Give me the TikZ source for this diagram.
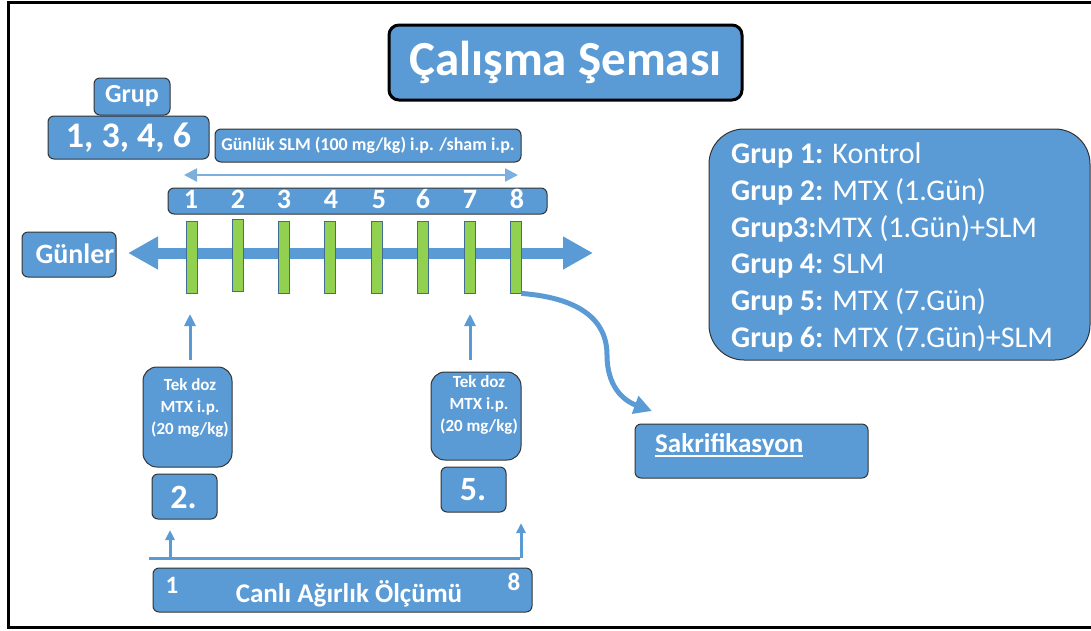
\documentclass[tikz,border=0pt]{standalone}
\usepackage{fontspec}
\setmainfont{Carlito}
\usetikzlibrary{positioning,arrows.meta}
\definecolor{blu}{HTML}{5B9BD5}
\definecolor{grn}{HTML}{92D050}
\tikzset{
  box/.style={draw=black!80, line width=1pt, fill=blu, text=white, font=\bfseries, rounded corners=6pt, inner sep=0pt},
  lbl/.style={text=white, inner sep=0pt},
  bar/.style={draw=blu!70!black, line width=0.8pt, fill=grn, minimum width=11pt, minimum height=72pt, inner sep=0pt},
  flow/.style={draw=blu, line width=3pt, -{Triangle[length=12pt,width=11pt]}},
}
\newcommand{\fs}[1]{\fontsize{#1}{#1}\selectfont}

\begin{document}
\begin{tikzpicture}[x=1pt,y=-1pt,>=Latex]
  \useasboundingbox (0,0) rectangle (1091,630);
  \draw[line width=3pt] (1091,2) -- (8,2) -- (8,627) -- (1091,627);

  \node[box, draw=black, line width=3pt, rounded corners=10pt, minimum width=353pt, minimum height=75pt, font=\bfseries\fs{49}] (baslik) at (565.5,62.5) {Çalışma Şeması};

  \node[box, minimum width=76pt, minimum height=37pt, font=\bfseries\fs{26}] (grup) at (132,96.5) {Grup};
  \node[box, minimum width=161pt, minimum height=43pt, font=\bfseries\fs{36}] (gruplar) at (128.5,137.5) {1, 3, 4, 6};
  \node[box, minimum width=306pt, minimum height=33pt, font=\bfseries\fs{18}] (slm) at (368,145.5) {Günlük SLM (100 mg/kg) i.p. /sham i.p.};

  \coordinate (slmA) at (184,175);
  \coordinate (slmB) at (518,175);
  \draw[blu!80, line width=2.5pt, {Triangle[length=13pt,width=13pt]}-{Triangle[length=13pt,width=13pt]}] (slmA) -- (slmB);

  \node[box, minimum width=379pt, minimum height=26pt] (gunbox) at (357.5,201) {};
  \foreach \x [count=\i] in {191,238,284,331,379,423,470,517}
    \node[lbl, anchor=base, font=\bfseries\fs{28}] (n\i) at (\x,208) {\i};

  \coordinate (eksA) at (128,253);
  \coordinate (eksB) at (593,253);
  \draw[blu, line width=11pt, {Triangle[length=30pt,width=31pt]}-{Triangle[length=30pt,width=31pt]}] (eksA) -- (eksB);
  \foreach \x/\y [count=\i] in {191.5/257,237.5/255,284/257,330/257,376.5/257,422.5/257,469.5/257,515.5/257}
    \node[bar] (b\i) at (\x,\y) {};

  \node[box, minimum width=94pt, minimum height=45pt] (gunler) at (69,254.5) {};
  \node[lbl, font=\bfseries\fs{28}] (gunlert) at (75,254) {Günler};

  \node[box, rounded corners=14pt, minimum width=89pt, minimum height=100pt] (doz1) at (187.5,417) {};
  \node[lbl, align=center, font=\bfseries\fontsize{17}{22}\selectfont] (doz1t) at (190,408) {Tek doz\\MTX i.p.\\(20 mg/kg)};
  \node[box, rounded corners=14pt, minimum width=90pt, minimum height=88pt] (doz2) at (476,416) {};
  \node[lbl, align=center, font=\bfseries\fontsize{17}{22}\selectfont] (doz2t) at (479,405) {Tek doz\\MTX i.p.\\(20 mg/kg)};

  \coordinate (u1) at (190,360);
  \coordinate (u1e) at (190,314);
  \coordinate (u2) at (470,360);
  \coordinate (u2e) at (470,314);
  \draw[flow] (u1) -- (u1e);
  \draw[flow] (u2) -- (u2e);

  \node[box, minimum width=65pt, minimum height=45pt] (gun2) at (184.5,496.5) {};
  \node[lbl, font=\bfseries\fs{34}] (gun2t) at (183.5,497) {2.};
  \node[box, minimum width=65pt, minimum height=45pt] (gun5) at (473.5,489.5) {};
  \node[lbl, font=\bfseries\fs{34}] (gun5t) at (473,490) {5.};

  \coordinate (hA) at (149,558);
  \coordinate (hB) at (520,558);
  \coordinate (k1) at (170,558);
  \coordinate (k1e) at (170,530);
  \coordinate (k8) at (521,558);
  \coordinate (k8e) at (521,523);
  \draw[blu, line width=3pt] (hA) -- (hB);
  \draw[flow, -{Triangle[length=10pt,width=9pt]}] (k1) -- (k1e);
  \draw[flow, -{Triangle[length=10pt,width=9pt]}] (k8) -- (k8e);

  \node[box, minimum width=379pt, minimum height=44pt] (canli) at (342.5,590) {};
  \node[lbl, anchor=base, font=\bfseries\fs{27}] (canlit) at (349,602) {Canlı Ağırlık Ölçümü};
  \node[lbl, anchor=base, font=\bfseries\fs{25}] (c1) at (172,593) {1};
  \node[lbl, anchor=base, font=\bfseries\fs{25}] (c8) at (514,590) {8};

  \node[box, minimum width=233pt, minimum height=54pt] (sak) at (751.5,451) {};
  \node[lbl, anchor=base west, font=\bfseries\fs{27}] (sakt) at (655,452) {Sakrifikasyon};
  \draw[white, line width=1.5pt] ([yshift=-4pt]sakt.base west) -- ([yshift=-4pt]sakt.base east);
  \coordinate (saktip) at (652,411);
  \draw[blu, line width=5pt, -{Triangle[length=18pt,width=18pt]}] (b8.south east) .. controls (580,298) and (607,320) .. (607,355) .. controls (607,385) and (622,400) .. (saktip);

  \node[box, rounded corners=35pt, minimum width=381pt, minimum height=231pt] (liste) at (899.5,244.5) {};
  \foreach \y/\t [count=\i] in {163/{\textbf{Grup 1:} Kontrol},200/{\textbf{Grup 2:} MTX (1.Gün)},237/{\textbf{Grup3:}MTX (1.Gün)+SLM},273/{\textbf{Grup 4:} SLM},310/{\textbf{Grup 5:} MTX (7.Gün)},347/{\textbf{Grup 6:} MTX (7.Gün)+SLM}}
    \node[lbl, anchor=base west, font=\fs{30}] (g\i) at (731,\y) {\t};
\end{tikzpicture}
\end{document}
